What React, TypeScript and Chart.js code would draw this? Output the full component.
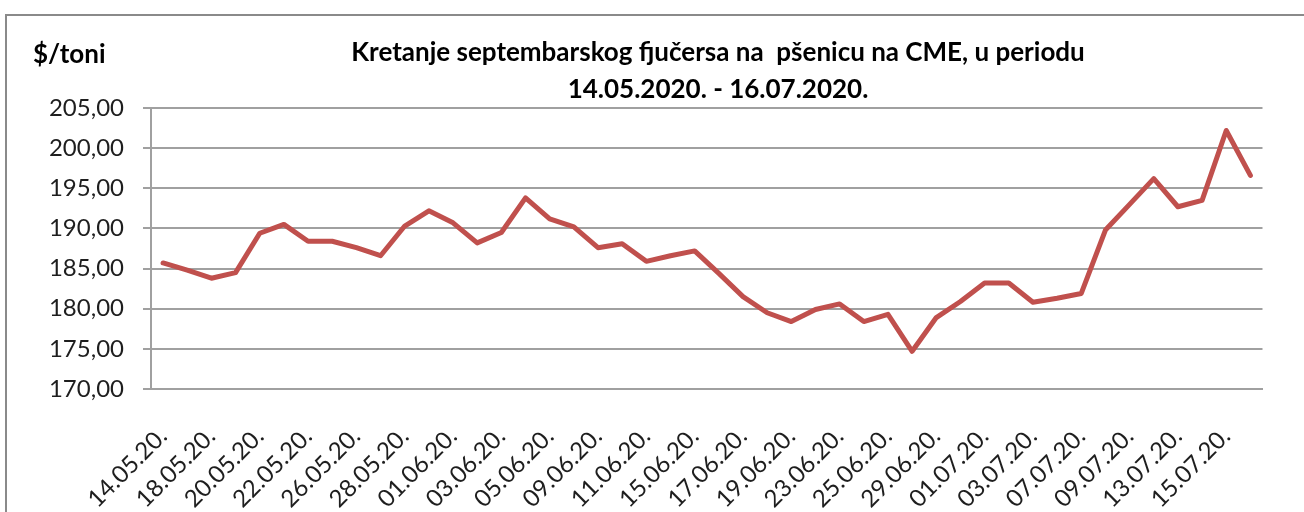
import React, { useEffect, useRef } from 'react';
import { Chart, registerables } from 'chart.js';

Chart.register(...registerables);

const categories = [
  '14.05.20.', '15.05.20.', '18.05.20.', '19.05.20.', '20.05.20.', '21.05.20.', '22.05.20.', '25.05.20.',
  '26.05.20.', '27.05.20.', '28.05.20.', '29.05.20.', '01.06.20.', '02.06.20.', '03.06.20.', '04.06.20.',
  '05.06.20.', '08.06.20.', '09.06.20.', '10.06.20.', '11.06.20.', '12.06.20.', '15.06.20.', '16.06.20.',
  '17.06.20.', '18.06.20.', '19.06.20.', '22.06.20.', '23.06.20.', '24.06.20.', '25.06.20.', '26.06.20.',
  '29.06.20.', '30.06.20.', '01.07.20.', '02.07.20.', '03.07.20.', '06.07.20.', '07.07.20.', '08.07.20.',
  '09.07.20.', '10.07.20.', '13.07.20.', '14.07.20.', '15.07.20.', '16.07.20.',
];

const prices = [
  185.7, 184.8, 183.8, 184.5, 189.4, 190.5, 188.4, 188.4,
  187.6, 186.6, 190.3, 192.2, 190.7, 188.2, 189.5, 193.8,
  191.2, 190.2, 187.6, 188.1, 185.9, 186.6, 187.2, 184.4,
  181.5, 179.5, 178.4, 179.9, 180.6, 178.4, 179.3, 174.7,
  178.9, 180.9, 183.2, 183.2, 180.8, 181.3, 181.9, 189.8,
  193.0, 196.2, 192.7, 193.5, 202.2, 196.6,
];

const yTicks = [170, 175, 180, 185, 190, 195, 200, 205];

const titleLines = ['Kretanje septembarskog fjučersa na  pšenicu na CME, u periodu', '14.05.2020. - 16.07.2020.'];
const unitLabel = '$/toni';

const FONT = 'Lato, "Open Sans", "Liberation Sans", sans-serif';

const decorPlugin = {
  id: 'decor',
  beforeDraw(chart: any) {
    const ctx = chart.ctx;
    ctx.save();
    ctx.fillStyle = '#ffffff';
    ctx.fillRect(0, 0, chart.width, chart.height);
    ctx.strokeStyle = '#8a8a8a';
    ctx.lineWidth = 2;
    ctx.beginPath();
    ctx.moveTo(6, chart.height + 2);
    ctx.lineTo(6, 15);
    ctx.lineTo(chart.width + 2, 15);
    ctx.stroke();
    ctx.restore();
  },
  afterDraw(chart: any) {
    const ctx = chart.ctx;
    ctx.save();
    ctx.fillStyle = '#000000';
    ctx.font = `bold 26px ${FONT}`;
    ctx.textBaseline = 'alphabetic';
    ctx.textAlign = 'center';
    ctx.fillText(titleLines[0], 718, 61);
    ctx.fillText(titleLines[1], 718, 98);
    ctx.textAlign = 'left';
    ctx.fillText(unitLabel, 33, 63);
    ctx.restore();
  },
};

export default function App() {
  const canvasRef = useRef<HTMLCanvasElement | null>(null);

  useEffect(() => {
    const canvas = canvasRef.current;
    if (!canvas) return;
    const chart = new Chart(canvas, {
      type: 'line',
      data: {
        labels: categories,
        datasets: [
          {
            data: prices,
            borderColor: '#C0504D',
            backgroundColor: '#C0504D',
            borderWidth: 5,
            pointRadius: 0,
            tension: 0,
            borderJoinStyle: 'round',
            borderCapStyle: 'round',
            fill: false,
          },
        ],
      },
      options: {
        responsive: false,
        animation: false,
        devicePixelRatio: 1,
        layout: { padding: { top: 108, right: 21, bottom: 0, left: 0 } },
        plugins: {
          legend: { display: false },
          tooltip: { enabled: false },
          title: { display: false },
        },
        scales: {
          x: {
            type: 'category',
            offset: true,
            grid: { display: false, drawTicks: false },
            border: { display: true, color: '#a0a0a0', width: 2 },
            ticks: {
              autoSkip: false,
              maxRotation: 45,
              minRotation: 45,
              padding: 33,
              color: '#1e1e1e',
              font: { family: FONT, size: 24 },
              callback: (_v: any, i: number) => (i % 2 === 0 ? categories[i] : ''),
            },
            afterFit: (scale: any) => {
              scale.height = 123;
            },
          },
          y: {
            min: yTicks[0],
            max: yTicks[yTicks.length - 1],
            afterBuildTicks: (scale: any) => {
              scale.ticks = yTicks.map((v) => ({ value: v }));
            },
            grid: { color: '#a0a0a0', lineWidth: 2, tickLength: 8, drawTicks: true },
            border: { display: true, color: '#a0a0a0', width: 2 },
            ticks: {
              padding: 19,
              color: '#1e1e1e',
              font: { family: FONT, size: 24 },
              callback: (v: any) => Number(v).toFixed(2).replace('.', ','),
            },
            afterFit: (scale: any) => {
              scale.width = 151;
            },
          },
        },
      },
      plugins: [decorPlugin],
    });
    return () => chart.destroy();
  }, []);

  return (
    <div style={{ position: 'fixed', left: 0, top: 0, width: 1304, height: 512, background: '#fff', overflow: 'hidden' }}>
      <canvas ref={canvasRef} width={1304} height={512} style={{ display: 'block', width: 1304, height: 512 }} />
    </div>
  );
}
